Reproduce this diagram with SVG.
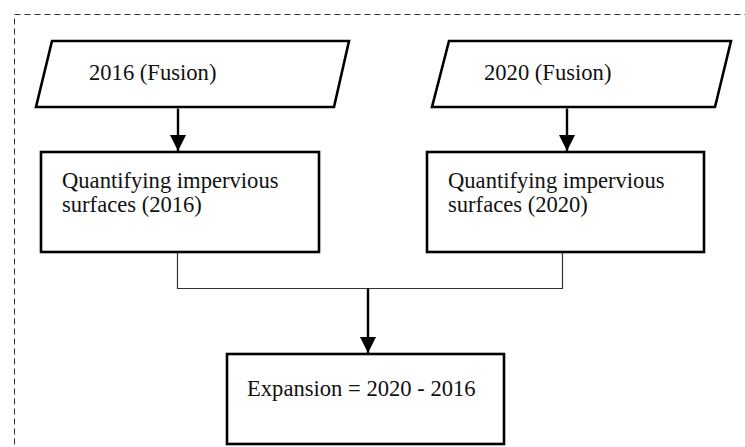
<svg xmlns="http://www.w3.org/2000/svg" width="745" height="447" viewBox="0 0 745 447">
<defs>
<style>
.frame{fill:none;stroke:#333;stroke-width:1;stroke-dasharray:6 4}
.shape{fill:#fff;stroke:#000;stroke-width:2.6}
.lbl{font-family:"Liberation Serif","Times New Roman",serif;font-size:22.6px;fill:#111}
.thick{fill:none;stroke:#000;stroke-width:2.4}
.thin{fill:none;stroke:#333;stroke-width:1.2}
</style>
<marker id="ah" markerUnits="userSpaceOnUse" markerWidth="16" markerHeight="18" refX="16" refY="8" orient="auto">
<path d="M0,0 L16,8 L0,16 Z" fill="#000"/>
</marker>
</defs>
<rect x="0" y="0" width="745" height="447" fill="#fff"/>
<rect class="frame" x="14.5" y="14.5" width="760" height="460"/>
<g id="input2016">
<polygon class="shape" points="52,41 349,41 334,107 36,107"/>
<text class="lbl" x="89" y="80">2016 (Fusion)</text>
</g>
<g id="input2020">
<polygon class="shape" points="449,41 731,41 715,107 432,107"/>
<text class="lbl" x="484" y="80">2020 (Fusion)</text>
</g>
<g id="quant2016">
<rect class="shape" x="41" y="152" width="278" height="100"/>
<text class="lbl" x="62" y="188">Quantifying impervious</text>
<text class="lbl" x="62" y="212">surfaces (2016)</text>
</g>
<g id="quant2020">
<rect class="shape" x="427" y="152" width="277" height="100"/>
<text class="lbl" x="448" y="188">Quantifying impervious</text>
<text class="lbl" x="448" y="212">surfaces (2020)</text>
</g>
<g id="expansion">
<rect class="shape" x="227" y="354" width="277" height="90"/>
<text class="lbl" x="247" y="396">Expansion = 2020 - 2016</text>
</g>
<g id="connectors">
<line class="thick" x1="178" y1="108.5" x2="178" y2="151" marker-end="url(#ah)"/>
<line class="thick" x1="567" y1="108.5" x2="567" y2="151" marker-end="url(#ah)"/>
<polyline class="thin" points="177.5,253 177.5,288.5 562.5,288.5 562.5,253"/>
<line class="thick" x1="368" y1="288" x2="368" y2="353" marker-end="url(#ah)"/>
</g>
</svg>
